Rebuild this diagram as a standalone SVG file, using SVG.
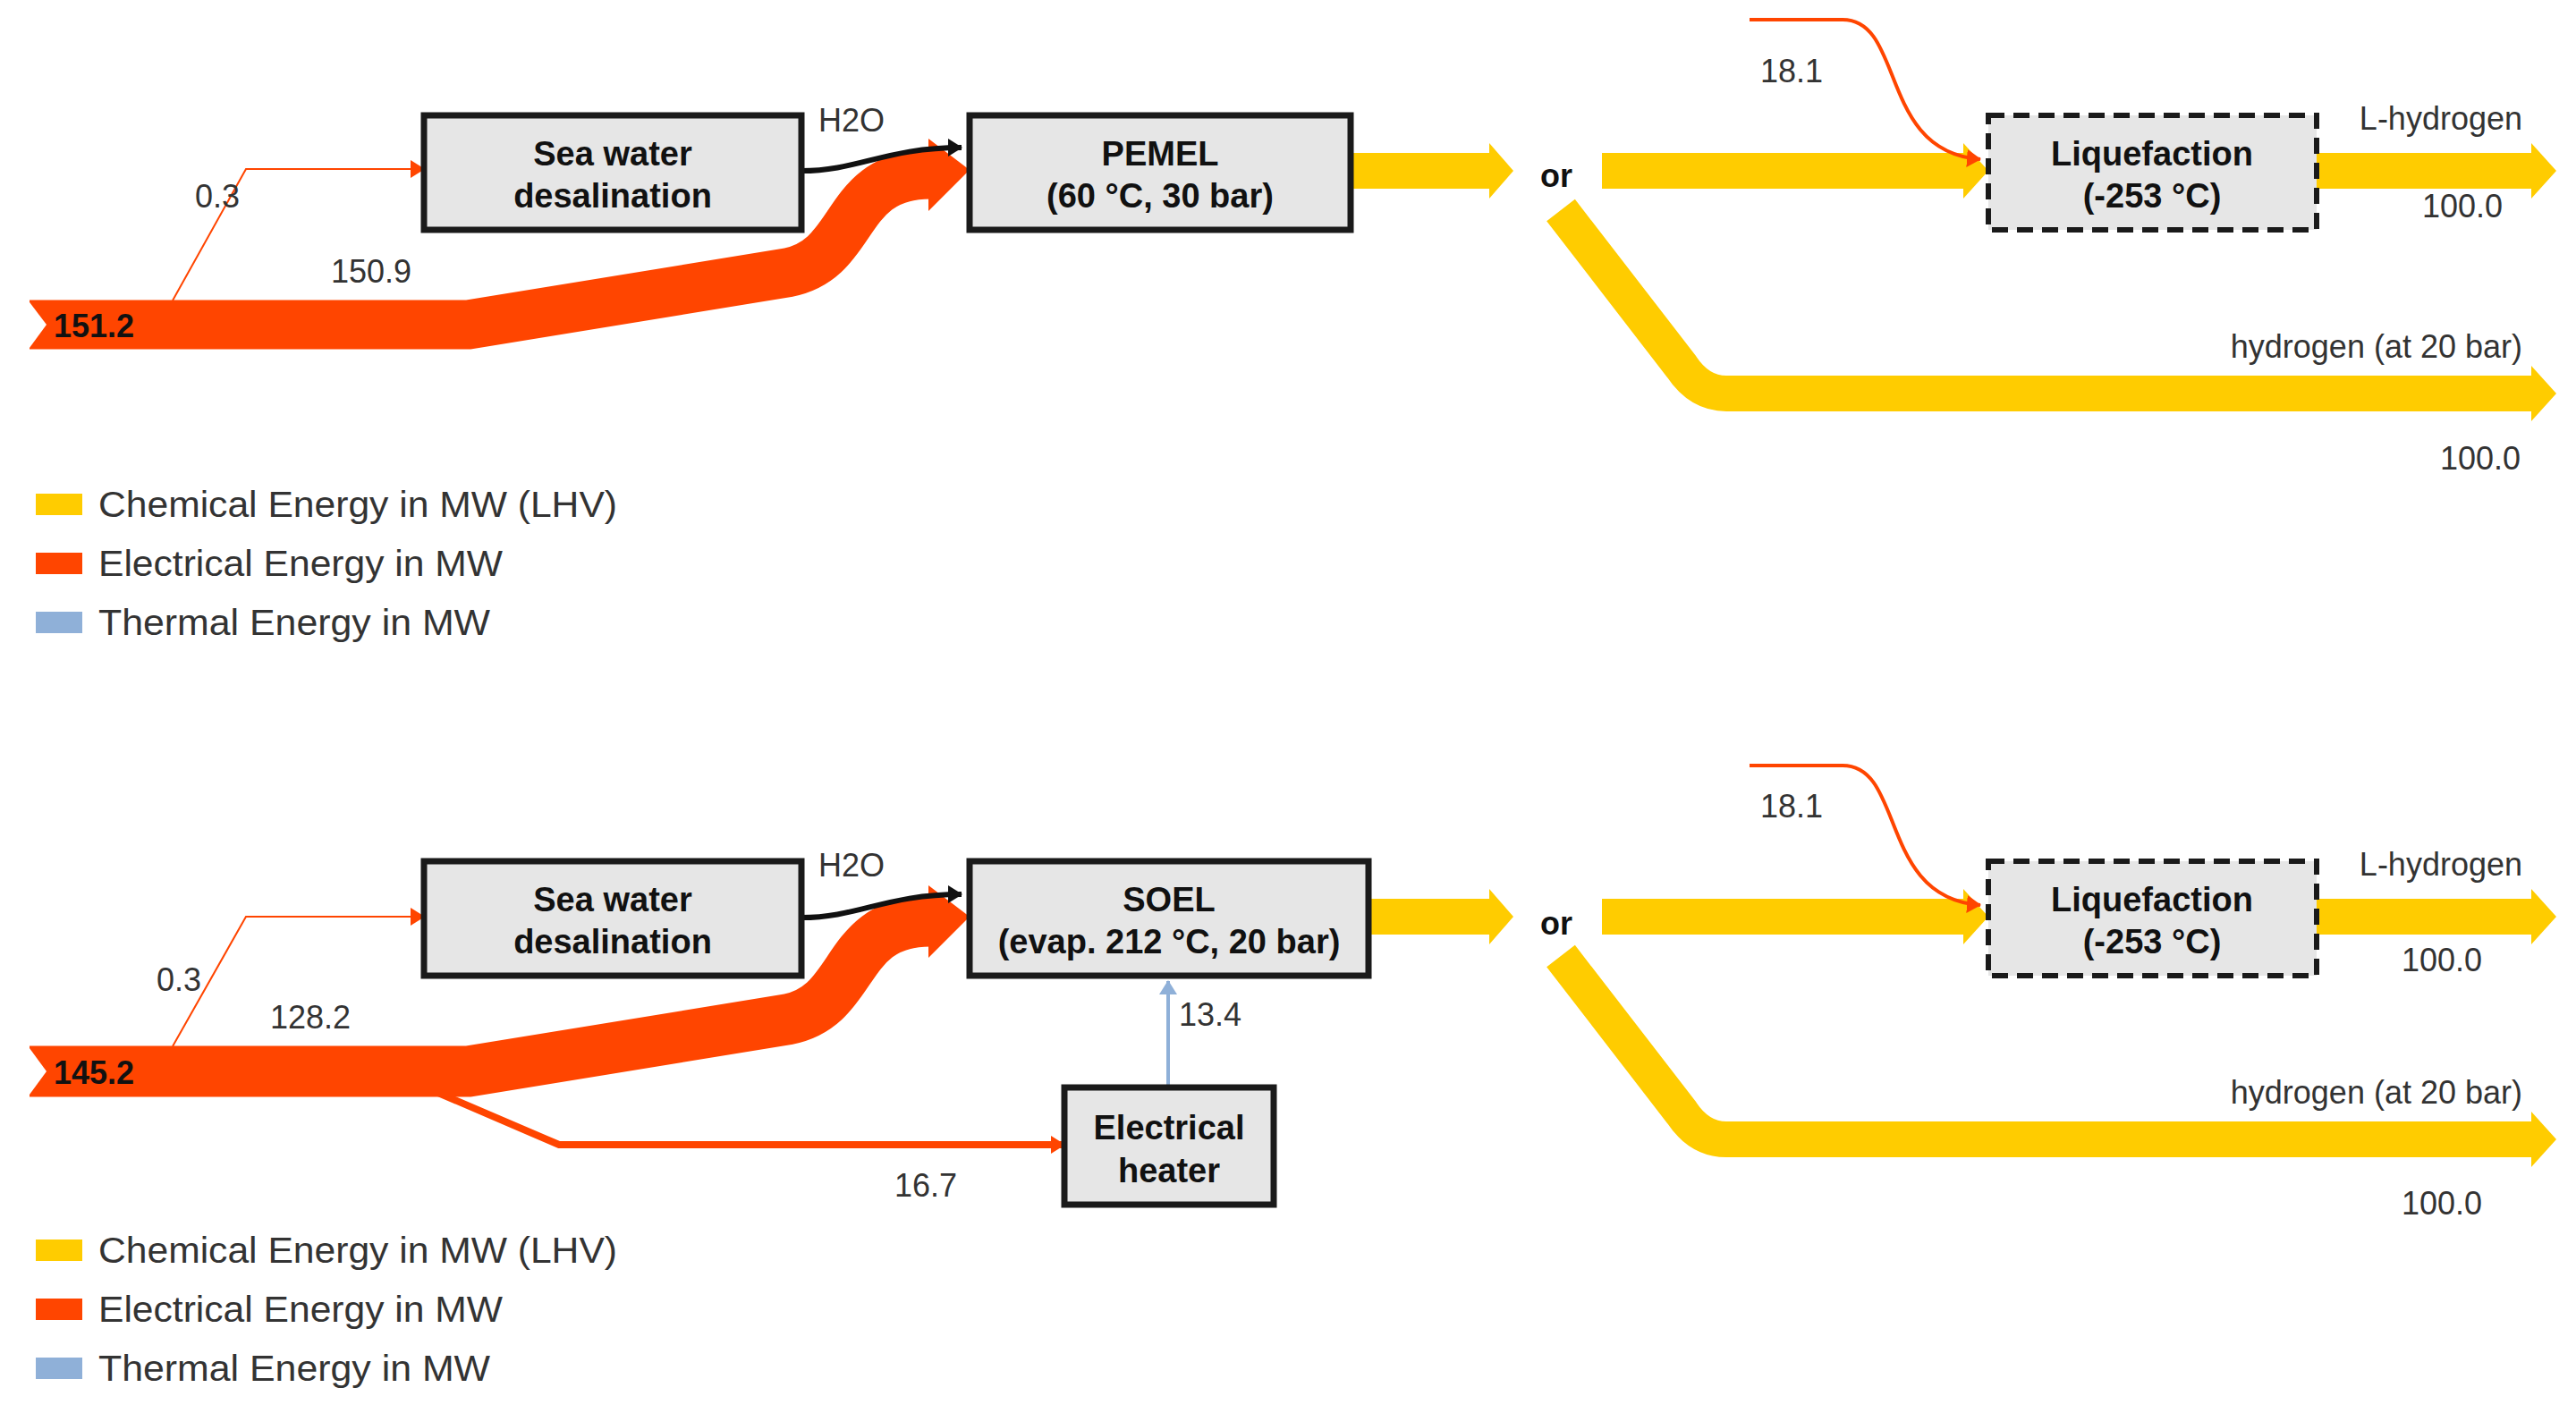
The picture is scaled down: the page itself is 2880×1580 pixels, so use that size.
<svg xmlns="http://www.w3.org/2000/svg" width="2880" height="1580" viewBox="0 0 2880 1580">
<style>
.box{fill:#e6e6e6;stroke:#1a1a1a;stroke-width:7}
.dbox{fill:#e6e6e6;stroke:#1a1a1a;stroke-width:6;stroke-dasharray:18 10}
.bt{font-family:"Liberation Sans",Arial,sans-serif;font-weight:bold;font-size:38px;fill:#111;text-anchor:middle}
.t{font-family:"Liberation Sans",Arial,sans-serif;font-size:36px;fill:#333}
.lg{font-family:"Liberation Sans",Arial,sans-serif;font-size:40px;fill:#333}
.el{fill:none;stroke:#ff4500}
.ch{fill:none;stroke:#ffcc00;stroke-width:40}
.yh{fill:#ffcc00}
.rh{fill:#ff4500}
</style>
<defs>
<marker id="ra" markerWidth="8" markerHeight="8" refX="7" refY="4" orient="auto" markerUnits="userSpaceOnUse" viewBox="0 0 8 8"><path d="M0,0 L8,4 L0,8z" fill="#ff4500"/></marker>
<marker id="ra2" markerWidth="16" markerHeight="20" refX="15" refY="10" orient="auto" markerUnits="userSpaceOnUse"><path d="M0,0 L16,10 L0,20z" fill="#ff4500"/></marker>
<marker id="ba" markerWidth="16" markerHeight="20" refX="15" refY="10" orient="auto" markerUnits="userSpaceOnUse"><path d="M0,0 L16,10 L0,20z" fill="#111"/></marker>
<marker id="ta" markerWidth="16" markerHeight="20" refX="15" refY="10" orient="auto" markerUnits="userSpaceOnUse"><path d="M0,0 L16,10 L0,20z" fill="#8fb0d8"/></marker>
</defs>
<rect width="2880" height="1580" fill="#fff"/>

<g id="connectors">
<!-- top panel -->
<path class="el" stroke-width="2" d="M193,336 L275,189 L474,189" marker-end="url(#ra2)"/>
<path d="M33,363 L524,363 L880,305 C960,290 940,195 1040,195" fill="none" stroke="#ff4500" stroke-width="55"/>
<polygon class="rh" points="1038,155 1084,190 1038,236"/>
<polygon fill="#fff" points="30,334 52,363 30,393"/>
<path d="M896,191 C960,191 990,165 1075,165" fill="none" stroke="#111" stroke-width="6" marker-end="url(#ba)"/>
<path class="ch" d="M1510,191 L1665,191"/><polygon class="yh" points="1665,160 1692,191 1665,222"/>
<path class="ch" d="M1791,191 L2195,191"/><polygon class="yh" points="2195,160 2223,191 2195,222"/>
<path class="ch" d="M2590,191 L2830,191"/><polygon class="yh" points="2830,160 2858,191 2830,222"/>
<path class="ch" d="M1745,235 L1880,410 Q1900,440 1930,440 L2830,440"/><polygon class="yh" points="2830,409 2858,440 2830,471"/>
<path class="el" stroke-width="4" d="M1956,22 L2060,22 C2130,22 2100,170 2214,178" marker-end="url(#ra2)"/>
<!-- bottom panel -->
<path class="el" stroke-width="2" d="M193,1170 L275,1025 L474,1025" marker-end="url(#ra2)"/>
<path class="el" stroke-width="8" d="M490,1222 L625,1280 L1190,1280" marker-end="url(#ra2)"/>
<path d="M33,1198 L524,1198 L880,1140 C960,1125 940,1030 1040,1030" fill="none" stroke="#ff4500" stroke-width="57"/>
<polygon class="rh" points="1038,990 1084,1025 1038,1071"/>
<polygon fill="#fff" points="30,1168 52,1198 30,1228"/>
<path d="M896,1026 C960,1026 990,1000 1075,1000" fill="none" stroke="#111" stroke-width="6" marker-end="url(#ba)"/>
<path d="M1306,1216 L1306,1097" fill="none" stroke="#8fb0d8" stroke-width="4" marker-end="url(#ta)"/>
<path class="ch" d="M1530,1025 L1665,1025"/><polygon class="yh" points="1665,994 1692,1025 1665,1056"/>
<path class="ch" d="M1791,1025 L2195,1025"/><polygon class="yh" points="2195,994 2223,1025 2195,1056"/>
<path class="ch" d="M2590,1025 L2830,1025"/><polygon class="yh" points="2830,994 2858,1025 2830,1056"/>
<path class="ch" d="M1745,1069 L1880,1244 Q1900,1274 1930,1274 L2830,1274"/><polygon class="yh" points="2830,1243 2858,1274 2830,1305"/>
<path class="el" stroke-width="4" d="M1956,856 L2060,856 C2130,856 2100,1004 2214,1012" marker-end="url(#ra2)"/>
</g>

<g id="sea1"><rect class="box" x="474" y="129" width="422" height="128"/><text class="bt" x="685" y="185">Sea water</text><text class="bt" x="685" y="232">desalination</text></g>
<g id="pemel"><rect class="box" x="1084" y="129" width="426" height="128"/><text class="bt" x="1297" y="185">PEMEL</text><text class="bt" x="1297" y="232">(60 °C, 30 bar)</text></g>
<g id="liq1"><rect class="dbox" x="2223" y="129" width="367" height="128"/><text class="bt" x="2406" y="185">Liquefaction</text><text class="bt" x="2406" y="232">(-253 °C)</text></g>

<g id="sea2"><rect class="box" x="474" y="963" width="422" height="128"/><text class="bt" x="685" y="1019">Sea water</text><text class="bt" x="685" y="1066">desalination</text></g>
<g id="soel"><rect class="box" x="1084" y="963" width="446" height="128"/><text class="bt" x="1307" y="1019">SOEL</text><text class="bt" x="1307" y="1066">(evap. 212 °C, 20 bar)</text></g>
<g id="heater"><rect class="box" x="1190" y="1216" width="234" height="131"/><text class="bt" x="1307" y="1274">Electrical</text><text class="bt" x="1307" y="1322">heater</text></g>
<g id="liq2"><rect class="dbox" x="2223" y="963" width="367" height="128"/><text class="bt" x="2406" y="1019">Liquefaction</text><text class="bt" x="2406" y="1066">(-253 °C)</text></g>

<g id="labels">
<text class="bt" x="105" y="377" style="font-size:36px">151.2</text>
<text class="t" x="218" y="232">0.3</text>
<text class="t" x="370" y="316">150.9</text>
<text class="t" x="915" y="147">H2O</text>
<text class="bt" x="1740" y="209" style="font-size:36px">or</text>
<text class="t" x="1968" y="92">18.1</text>
<text class="t" x="2820" y="145" text-anchor="end">L-hydrogen</text>
<text class="t" x="2798" y="243" text-anchor="end">100.0</text>
<text class="t" x="2820" y="400" text-anchor="end">hydrogen (at 20 bar)</text>
<text class="t" x="2818" y="525" text-anchor="end">100.0</text>

<text class="bt" x="105" y="1212" style="font-size:36px">145.2</text>
<text class="t" x="175" y="1108">0.3</text>
<text class="t" x="302" y="1150">128.2</text>
<text class="t" x="915" y="980">H2O</text>
<text class="t" x="1318" y="1147">13.4</text>
<text class="t" x="1000" y="1338">16.7</text>
<text class="bt" x="1740" y="1045" style="font-size:36px">or</text>
<text class="t" x="1968" y="914">18.1</text>
<text class="t" x="2820" y="979" text-anchor="end">L-hydrogen</text>
<text class="t" x="2775" y="1086" text-anchor="end">100.0</text>
<text class="t" x="2820" y="1234" text-anchor="end">hydrogen (at 20 bar)</text>
<text class="t" x="2775" y="1358" text-anchor="end">100.0</text>
</g>

<g id="legend1">
<rect x="40" y="552" width="52" height="24" fill="#ffcc00"/><text class="lg" x="110" y="578" textLength="580" lengthAdjust="spacingAndGlyphs">Chemical Energy in MW (LHV)</text>
<rect x="40" y="618" width="52" height="24" fill="#ff4500"/><text class="lg" x="110" y="644" textLength="452" lengthAdjust="spacingAndGlyphs">Electrical Energy in MW</text>
<rect x="40" y="684" width="52" height="24" fill="#8fb0d8"/><text class="lg" x="110" y="710" textLength="438" lengthAdjust="spacingAndGlyphs">Thermal Energy in MW</text>
</g>
<g id="legend2">
<rect x="40" y="1386" width="52" height="24" fill="#ffcc00"/><text class="lg" x="110" y="1412" textLength="580" lengthAdjust="spacingAndGlyphs">Chemical Energy in MW (LHV)</text>
<rect x="40" y="1452" width="52" height="24" fill="#ff4500"/><text class="lg" x="110" y="1478" textLength="452" lengthAdjust="spacingAndGlyphs">Electrical Energy in MW</text>
<rect x="40" y="1518" width="52" height="24" fill="#8fb0d8"/><text class="lg" x="110" y="1544" textLength="438" lengthAdjust="spacingAndGlyphs">Thermal Energy in MW</text>
</g>
</svg>
